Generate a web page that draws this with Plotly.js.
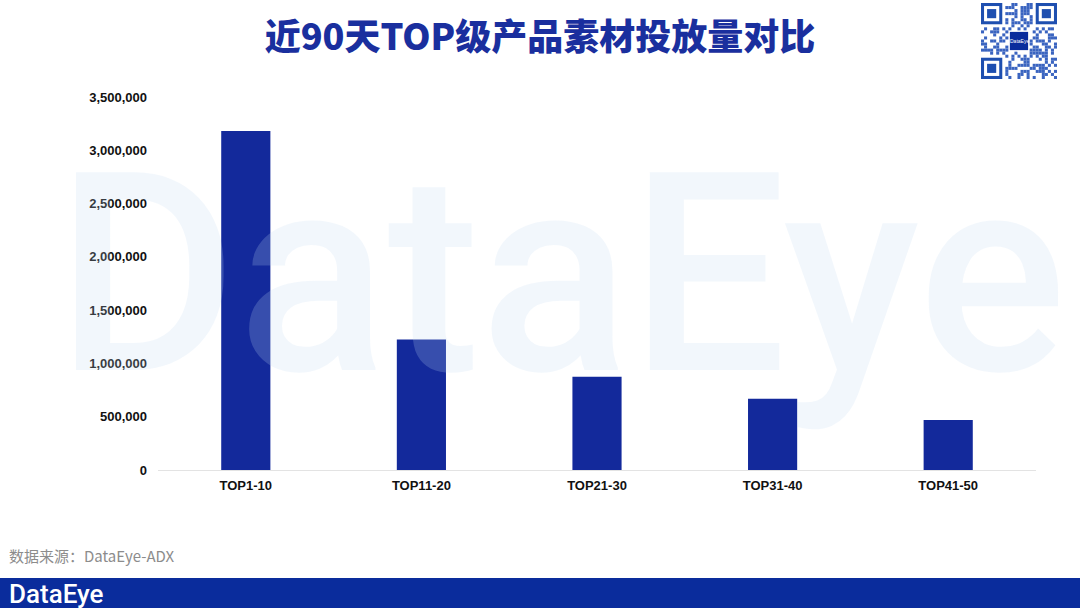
<!DOCTYPE html>
<html>
<head>
<meta charset="utf-8">
<script src="https://cdn.plot.ly/plotly-3.0.1.min.js"></script>
<style>
html,body{margin:0;padding:0;background:#fff;}
#chart{width:1080px;height:608px;}
</style>
</head>
<body>
<div id="chart"></div>
<script>
const categories = ["TOP1-10", "TOP11-20", "TOP21-30", "TOP31-40", "TOP41-50"];
const values = [3180000, 1225000, 875000, 668000, 470000];
const tickVals = [0, 500000, 1000000, 1500000, 2000000, 2500000, 3000000, 3500000];
const tickText = ["0", "500,000", "1,000,000", "1,500,000", "2,000,000", "2,500,000", "3,000,000", "3,500,000"];
const titleText = "近90天TOP级产品素材投放量对比";
const sourceText = "数据来源：DataEye-ADX";
const brandText = "DataEye";

const W = 1080, H = 608;
const ML = 158, MR = 44, MT = 97, MB = 138;
const PW = W - ML - MR, PH = H - MT - MB;
// convert figure pixels to plot-area (paper) fractions
const px = (x) => (x - ML) / PW;
const py = (y) => (H - MB - y) / PH;

const shapes = [];
// footer band
shapes.push({type:'rect', xref:'paper', yref:'paper', x0:px(0), x1:px(W), y0:py(608), y1:py(578),
  fillcolor:'#0A2C9C', line:{width:0}, layer:'above'});

// QR code decoration
const qx0 = 981, qy0 = 3, qs = 76, n = 25, m = qs / n;
function finder(cx, cy) {
  shapes.push({type:'rect', xref:'paper', yref:'paper', x0:px(cx), x1:px(cx+7*m), y0:py(cy+7*m), y1:py(cy),
    fillcolor:'#1E4FB0', line:{width:0}});
  shapes.push({type:'rect', xref:'paper', yref:'paper', x0:px(cx+m), x1:px(cx+6*m), y0:py(cy+6*m), y1:py(cy+m),
    fillcolor:'#ffffff', line:{width:0}});
  shapes.push({type:'rect', xref:'paper', yref:'paper', x0:px(cx+2*m), x1:px(cx+5*m), y0:py(cy+5*m), y1:py(cy+2*m),
    fillcolor:'#1E4FB0', line:{width:0}});
}
let seed = 7;
function nextBit() { seed = (seed * 1103515245 + 12345) % 2147483648; return (seed >> 16) & 1; }
for (let r = 0; r < n; r++) {
  for (let c = 0; c < n; c++) {
    const inF = (r < 8 && c < 8) || (r < 8 && c >= n-8) || (r >= n-8 && c < 8);
    const inC = r >= 9 && r <= 15 && c >= 9 && c <= 15;
    if (inF || inC) continue;
    if (nextBit()) {
      shapes.push({type:'rect', xref:'paper', yref:'paper',
        x0:px(qx0+c*m), x1:px(qx0+(c+1)*m), y0:py(qy0+(r+1)*m), y1:py(qy0+r*m),
        fillcolor:'#3A64C0', line:{width:0}});
    }
  }
}
finder(qx0, qy0);
finder(qx0 + (n-7)*m, qy0);
finder(qx0, qy0 + (n-7)*m);
shapes.push({type:'rect', xref:'paper', yref:'paper', x0:px(qx0+9.5*m), x1:px(qx0+15.5*m), y0:py(qy0+15.5*m), y1:py(qy0+9.5*m),
  fillcolor:'#0A2C9C', line:{width:0}});

const annotations = [
  {text: brandText, xref:'paper', yref:'paper', x:px(561), y:py(275), xanchor:'center', yanchor:'middle',
   showarrow:false, font:{family:'Roboto, Arial, sans-serif', size:278, color:'rgba(193,217,240,0.21)', weight:500}},
  {text: sourceText, xref:'paper', yref:'paper', x:px(7), y:py(555), xanchor:'left', yanchor:'middle',
   showarrow:false, font:{family:'Noto Sans CJK SC, Liberation Sans, sans-serif', size:15, color:'#8c8c8c'}},
  {text: brandText, xref:'paper', yref:'paper', x:px(7), y:py(594), xanchor:'left', yanchor:'middle',
   showarrow:false, font:{family:'Roboto, sans-serif', size:26, color:'#ffffff', weight:500}},
  {text: 'DataEye', xref:'paper', yref:'paper', x:px(qx0+12.5*m), y:py(qy0+12.5*m), xanchor:'center', yanchor:'middle',
   showarrow:false, font:{family:'Liberation Sans, sans-serif', size:5, color:'#ffffff'}}
];

const trace = {
  type:'bar', x:categories, y:values,
  marker:{color:'#13299B', line:{width:0}},
  width:0.28, hoverinfo:'none'
};

const layout = {
  width:W, height:H,
  paper_bgcolor:'#ffffff', plot_bgcolor:'rgba(0,0,0,0)',
  margin:{l:ML, r:MR, t:MT, b:MB},
  showlegend:false,
  title:{text:titleText, x:0.5, xanchor:'center', xref:'container', y:1 - 37/H, yref:'container', yanchor:'middle',
    font:{family:'Noto Sans CJK SC, sans-serif', size:36, color:'#1A2F9E', weight:900}},
  xaxis:{type:'category', showgrid:false, zeroline:false, showline:false, ticks:'',
    tickfont:{family:'Liberation Sans, Arial, sans-serif', size:13, color:'#111111', weight:'bold'},
    ticklabelstandoff:6},
  yaxis:{range:[0,3500000], tickvals:tickVals, ticktext:tickText, showgrid:false,
    zeroline:true, zerolinecolor:'#e3e3e3', zerolinewidth:1, showline:false, ticks:'',
    tickfont:{family:'Liberation Sans, Arial, sans-serif', size:13, color:'#111111', weight:'bold'},
    ticklabelstandoff:10},
  shapes:shapes,
  annotations:annotations
};

Plotly.newPlot('chart', [trace], layout, {displayModeBar:false, staticPlot:true});
</script>
</body>
</html>
